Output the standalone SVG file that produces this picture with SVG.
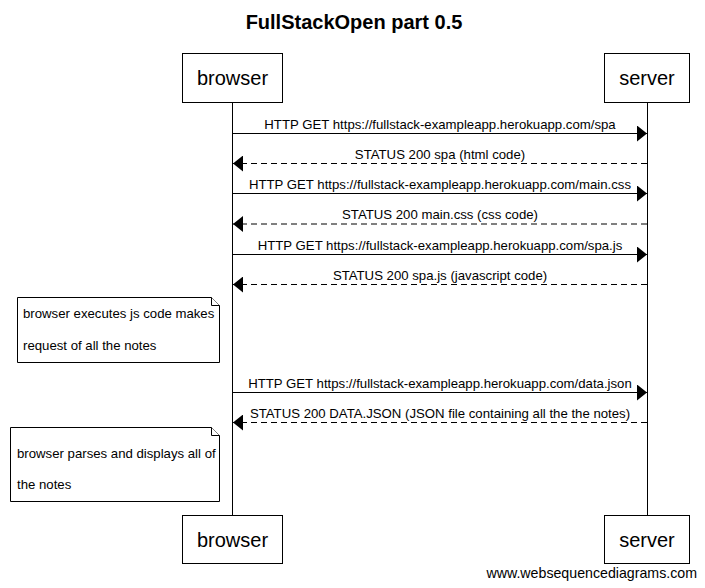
<svg xmlns="http://www.w3.org/2000/svg" width="705" height="588" viewBox="0 0 705 588">
<style>
text{font-family:"Liberation Sans",Arial,sans-serif;fill:#000}
.t{font-size:20px;font-weight:bold}
.p{font-size:20px}
.m{font-size:13.2px}
.w{font-size:14.2px}
.box{fill:#fff;stroke:#000;stroke-width:1}
.life{stroke:#000;stroke-width:1}
.sync{stroke:#000;stroke-width:1;fill:none}
.ret{stroke:#000;stroke-width:1;fill:none;stroke-dasharray:6,4}
.note{fill:#fff;stroke:#000;stroke-width:1}
</style>
<defs>
<marker id="ah" viewBox="0 0 10 16" refX="10" refY="8" markerWidth="10" markerHeight="16" markerUnits="userSpaceOnUse" orient="auto">
<path d="M0,0 L10,8 L0,16 Z" fill="#000"/>
</marker>
</defs>
<rect width="705" height="588" fill="#fff"/>
<text class="t" x="354" y="29" text-anchor="middle">FullStackOpen part 0.5</text>
<g id="lifelines">
<line class="life" x1="232.5" y1="102" x2="232.5" y2="516"/>
<line class="life" x1="647.5" y1="102" x2="647.5" y2="516"/>
</g>
<g id="browser">
<rect class="box" x="182.5" y="53.5" width="100" height="49"/>
<text class="p" x="232.5" y="85" text-anchor="middle">browser</text>
<rect class="box" x="182.5" y="515.5" width="100" height="48"/>
<text class="p" x="232.5" y="547" text-anchor="middle">browser</text>
</g>
<g id="server">
<rect class="box" x="604.5" y="53.5" width="85" height="49"/>
<text class="p" x="647" y="85" text-anchor="middle">server</text>
<rect class="box" x="604.5" y="515.5" width="85" height="48"/>
<text class="p" x="647" y="547" text-anchor="middle">server</text>
</g>
<g id="connectors">
<line class="sync" x1="233" y1="133.5" x2="647" y2="133.5" marker-end="url(#ah)"/>
<text class="m" x="440" y="128.5" text-anchor="middle">HTTP GET https://fullstack-exampleapp.herokuapp.com/spa</text>
<line class="ret" x1="647" y1="163.5" x2="233" y2="163.5" marker-end="url(#ah)"/>
<text class="m" x="440" y="158.5" text-anchor="middle">STATUS 200 spa (html code)</text>
<line class="sync" x1="233" y1="193.5" x2="647" y2="193.5" marker-end="url(#ah)"/>
<text class="m" x="440" y="188.5" text-anchor="middle">HTTP GET https://fullstack-exampleapp.herokuapp.com/main.css</text>
<line class="ret" x1="647" y1="224" x2="233" y2="224" marker-end="url(#ah)"/>
<text class="m" x="440" y="219" text-anchor="middle">STATUS 200 main.css (css code)</text>
<line class="sync" x1="233" y1="254.5" x2="647" y2="254.5" marker-end="url(#ah)"/>
<text class="m" x="440" y="249.5" text-anchor="middle">HTTP GET https://fullstack-exampleapp.herokuapp.com/spa.js</text>
<line class="ret" x1="647" y1="284.5" x2="233" y2="284.5" marker-end="url(#ah)"/>
<text class="m" x="440" y="279.5" text-anchor="middle">STATUS 200 spa.js (javascript code)</text>
<line class="sync" x1="233" y1="392.5" x2="647" y2="392.5" marker-end="url(#ah)"/>
<text class="m" x="440" y="387.5" text-anchor="middle">HTTP GET https://fullstack-exampleapp.herokuapp.com/data.json</text>
<line class="ret" x1="647" y1="422.5" x2="233" y2="422.5" marker-end="url(#ah)"/>
<text class="m" x="440" y="417.5" text-anchor="middle">STATUS 200 DATA.JSON (JSON file containing all the the notes)</text>
</g>
<g id="note1">
<path class="note" d="M17.5,297.5 H211.5 L219.5,305.5 V362.5 H17.5 Z"/>
<path class="note" d="M211.5,297.5 V305.5 H219.5"/>
<text class="m" x="23" y="318">browser executes js code makes</text>
<text class="m" x="23" y="350">request of all the notes</text>
</g>
<g id="note2">
<path class="note" d="M10.5,427.5 H211.5 L219.5,435.5 V501.5 H10.5 Z"/>
<path class="note" d="M211.5,427.5 V435.5 H219.5"/>
<text class="m" x="17" y="458">browser parses and displays all of</text>
<text class="m" x="17" y="489">the notes</text>
</g>
<text class="w" x="697" y="578" text-anchor="end">www.websequencediagrams.com</text>
</svg>
